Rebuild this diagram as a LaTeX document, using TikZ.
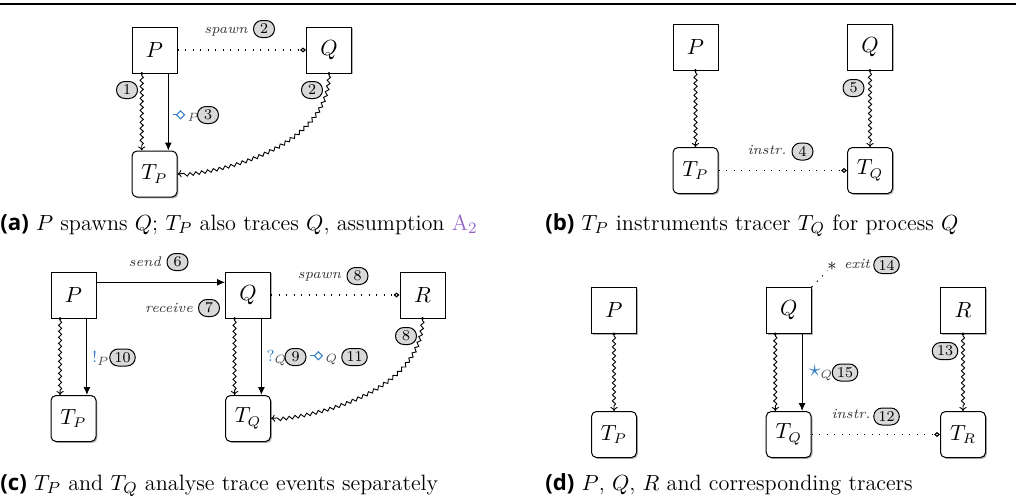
\documentclass[tikz,border=0pt]{standalone}
\usepackage{fontspec}
\newfontfamily\capsans{Open Sans}
\usetikzlibrary{arrows.meta,decorations.pathmorphing,shadows}
\definecolor{symblue}{RGB}{52,126,196}
\definecolor{asmpurple}{RGB}{150,100,200}
\newcommand\spawnsym{\tikz[baseline=-0.6ex,line width=0.55pt]{\draw (0pt,0pt) -- (2pt,0pt); \draw (2pt,0pt) -- (4pt,2pt) -- (6pt,0pt) -- (4pt,-2pt) -- cycle;}}
\tikzset{
  proc/.style={draw, line width=0.5pt, fill=white, minimum width=22.5pt, minimum height=23pt, inner sep=0pt,
    font=\fontsize{10.5}{12}\selectfont,
    drop shadow={shadow xshift=0.7pt, shadow yshift=-0.7pt, fill=black!30, opacity=1}},
  tracer/.style={proc, rounded corners=2.5pt},
  numbox/.style={draw, line width=0.5pt, fill=black!15, rounded corners=4.2pt, minimum height=8.5pt,
    minimum width=10.5pt, inner xsep=2.4pt, inner ysep=0pt, font=\fontsize{7.5}{8}\selectfont},
  lbl/.style={font=\fontsize{7}{8}\selectfont\itshape, text=black!80, inner sep=0pt, anchor=base},
  symlbl/.style={font=\fontsize{8}{9}\selectfont, inner sep=0pt},
  wig/.style={decorate, decoration={snake, amplitude=0.8pt, segment length=3pt, pre length=1pt, post length=2.2pt},
    -{To[length=2pt,width=3.6pt]}, line width=0.45pt},
  msg/.style={-{Latex[length=4pt,width=3.5pt]}, line width=0.5pt},
  dotpat/.style={line width=0.55pt, dash pattern=on 0.55pt off 3.2pt},
  spawnln/.style={dotpat, -{Diamond[open,length=3pt,width=2.5pt]}},
  captxt/.style={anchor=base west, inner sep=0pt, font=\fontsize{11.1}{13}\selectfont},
  dotfill/.style={fill=black}
}
\begin{document}
\begin{tikzpicture}[x=0.5pt,y=-0.5pt]
\useasboundingbox (0,0) rectangle (1016,503);
\coordinate (rl) at (0,4);
\coordinate (rr) at (1016,4);
\draw[line width=0.6pt] (rl) -- (rr);

% ---------- (a)
\node[proc] (Pa) at (154.5,50) {$P$};
\node[proc] (Qa) at (329,50) {$Q$};
\node[tracer] (TPa) at (154.5,174) {$T_P$};
\draw[spawnln] (Pa) -- (Qa);
\node[lbl] (la1) at (226,33) {spawn};
\node[numbox] (na2) at (264,29) {2};
\draw[wig] ([xshift=-6.4pt]Pa.south) -- ([xshift=-6.4pt]TPa.north);
\fill[dotfill] ([xshift=-6.4pt]Pa.south) circle (0.8pt);
\draw[msg] ([xshift=6.9pt]Pa.south) -- ([xshift=6.9pt]TPa.north);
\node[numbox] (na1) at (127,90) {1};
\node[symlbl] (sa3) at (186,116) {{\color{symblue}\spawnsym}\,$_{\color{black!70}P}$};
\node[numbox] (na3) at (208,115) {3};
\draw[wig] (Qa.south) .. controls +(0,62) and +(70,-6) .. (TPa.east);
\fill[dotfill] (Qa.south) circle (0.8pt);
\node[numbox] (na2b) at (312,90) {2};
\node[captxt] (capa) at (0,230) {{\capsans\bfseries (a)}\ $P$ spawns $Q$; $T_P$ also traces $Q$, assumption {\color{asmpurple}$\mathrm{A}_2$}};

% ---------- (b)
\node[proc] (Pb) at (695.5,47) {$P$};
\node[proc] (Qb) at (870,47) {$Q$};
\node[tracer] (TPb) at (695.5,170.5) {$T_P$};
\node[tracer] (TQb) at (870,170.5) {$T_Q$};
\draw[wig] (Pb.south) -- (TPb.north);
\fill[dotfill] (Pb.south) circle (0.8pt);
\draw[wig] (Qb.south) -- (TQb.north);
\fill[dotfill] (Qb.south) circle (0.8pt);
\draw[spawnln] (TPb) -- (TQb);
\node[lbl] (lb1) at (767,154) {instr.};
\node[numbox] (nb4) at (802.5,151.5) {4};
\node[numbox] (nb5) at (853.5,88) {5};
\node[captxt] (capb) at (545,230) {{\capsans\bfseries (b)}\ $T_P$ instruments tracer $T_Q$ for process $Q$};

% ---------- (c)
\node[proc] (Pc) at (73.5,295) {$P$};
\node[proc] (Qc) at (248,295) {$Q$};
\node[proc] (Rc) at (422.5,295) {$R$};
\node[tracer] (TPc) at (73.5,418.5) {$T_P$};
\node[tracer] (TQc) at (248,418.5) {$T_Q$};
\draw[msg] ([yshift=6.35pt]Pc.east) -- ([yshift=6.35pt]Qc.west);
\node[lbl] (lc1) at (145,266) {send};
\node[numbox] (nc6) at (177.5,262) {6};
\node[lbl] (lc2) at (169,312) {receive};
\node[numbox] (nc7) at (209,308) {7};
\draw[spawnln] (Qc) -- (Rc);
\node[lbl] (lc3) at (319.5,278) {spawn};
\node[numbox] (nc8) at (357.5,276) {8};
\draw[wig] ([xshift=-6.7pt]Pc.south) -- ([xshift=-6.7pt]TPc.north);
\fill[dotfill] ([xshift=-6.7pt]Pc.south) circle (0.8pt);
\draw[msg] ([xshift=6.7pt]Pc.south) -- ([xshift=6.7pt]TPc.north);
\draw[wig] ([xshift=-6.7pt]Qc.south) -- ([xshift=-6.7pt]TQc.north);
\fill[dotfill] ([xshift=-6.7pt]Qc.south) circle (0.8pt);
\draw[msg] ([xshift=6.7pt]Qc.south) -- ([xshift=6.7pt]TQc.north);
\draw[wig] (Rc.south) .. controls +(0,62) and +(70,-6) .. (TQc.east);
\fill[dotfill] (Rc.south) circle (0.8pt);
\node[numbox] (nc8b) at (406,336) {8};
\node[symlbl] (sc10) at (101,358) {{\color{symblue}!}$_{\color{black!70}P}$};
\node[numbox] (nc10) at (122.5,357.5) {10};
\node[symlbl] (sc9) at (277,358) {{\color{symblue}?}$_{\color{black!70}Q}$};
\node[numbox] (nc9) at (295.5,357) {9};
\node[symlbl] (sc11) at (324,358) {{\color{symblue}\spawnsym}\,$_{\color{black!70}Q}$};
\node[numbox] (nc11) at (354.5,357) {11};
\node[captxt] (capc) at (0,490) {{\capsans\bfseries (c)}\ $T_P$ and $T_Q$ analyse trace events separately};

% ---------- (d)
\node[proc] (Pd) at (614,310.5) {$P$};
\node[proc] (Qd) at (788.7,310.5) {$Q$};
\node[proc] (Rd) at (963,310.5) {$R$};
\node[tracer] (TPd) at (614,434.5) {$T_P$};
\node[tracer] (TQd) at (788.7,434.5) {$T_Q$};
\node[tracer] (TRd) at (963,434.5) {$T_R$};
\draw[wig] (Pd.south) -- (TPd.north);
\fill[dotfill] (Pd.south) circle (0.8pt);
\draw[wig] ([xshift=-6.7pt]Qd.south) -- ([xshift=-6.7pt]TQd.north);
\fill[dotfill] ([xshift=-6.7pt]Qd.south) circle (0.8pt);
\draw[msg] ([xshift=6.7pt]Qd.south) -- ([xshift=6.7pt]TQd.north);
\draw[wig] (Rd.south) -- (TRd.north);
\fill[dotfill] (Rd.south) circle (0.8pt);
\node[inner sep=0pt, font=\fontsize{9}{10}\selectfont] (ast) at (832,266) {$\ast$};
\draw[dotpat] (Qd.north east) -- (ast);
\node[lbl] (ld1) at (857,268) {exit};
\node[numbox] (nd14) at (886.5,265) {14};
\node[symlbl] (sd15) at (821,373) {{\fontsize{12}{13}\selectfont\color{symblue}$\star$}$_{\color{black!70}Q}$};
\node[numbox] (nd15) at (845,372.5) {15};
\node[numbox] (nd13) at (945,351) {13};
\draw[spawnln] (TQd) -- (TRd);
\node[lbl] (ld2) at (851,418) {instr.};
\node[numbox] (nd12) at (886.5,416.5) {12};
\node[captxt] (capd) at (545,490) {{\capsans\bfseries (d)}\ $P$, $Q$, $R$ and corresponding tracers};
\end{tikzpicture}
\end{document}
